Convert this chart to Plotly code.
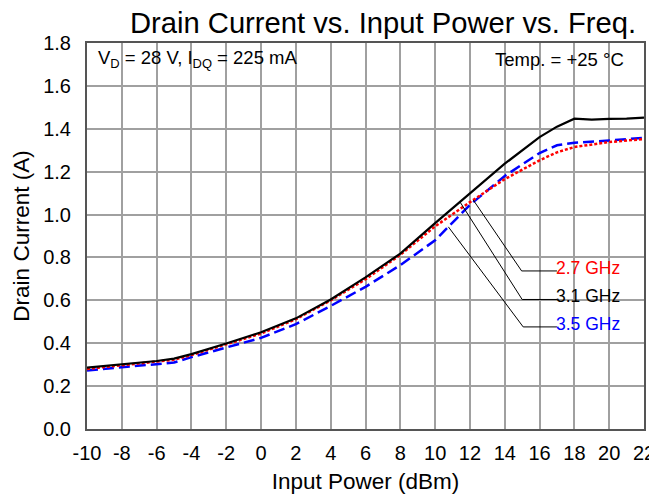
import numpy as np
import plotly.graph_objects as go

# ---- data ----
pin_27 = [-10, -8, -6, -5, -4, -2, 0, 2, 4, 6, 8, 10, 12, 14, 16, 17, 18, 20, 22]
id_27 = [0.280, 0.297, 0.313, 0.323, 0.345, 0.395, 0.445, 0.512, 0.600, 0.698, 0.812,
         0.945, 1.058, 1.165, 1.253, 1.290, 1.315, 1.338, 1.352]

pin_31 = [-10, -8, -6, -5, -4, -2, 0, 2, 4, 6, 8, 10, 12, 14, 16, 17, 18, 19, 20, 21, 22]
id_31 = [0.286, 0.301, 0.317, 0.328, 0.349, 0.399, 0.451, 0.516, 0.604, 0.707, 0.818,
         0.960, 1.098, 1.237, 1.361, 1.410, 1.447, 1.443, 1.446, 1.447, 1.452]

pin_35 = [-10, -8, -6, -5, -4, -2, 0, 2, 4, 6, 8, 10, 12, 14, 16, 17, 18, 20, 22]
id_35 = [0.273, 0.288, 0.301, 0.310, 0.335, 0.381, 0.425, 0.489, 0.574, 0.663, 0.764,
         0.880, 1.045, 1.180, 1.287, 1.323, 1.335, 1.345, 1.358]

series_names = ["2.7 GHz", "3.1 GHz", "3.5 GHz"]
x_ticks = list(range(-10, 23, 2))
y_ticks = [round(0.2 * i, 1) for i in range(10)]

# callout anchor positions (x on curve), elbow and label positions
callout_x = [12.19, 11.43, 10.76]
elbow = [(14.97, 0.737), (15.0, 0.604), (15.06, 0.476)]
label_x = 17.0

FONT = "Liberation Sans, Arial, sans-serif"

fig = go.Figure()
styles = [
    dict(color="#ff0000", width=2.5, dash="3px,2px"),
    dict(color="#000000", width=2.2, dash="solid"),
    dict(color="#0000ff", width=2.5, dash="11px,5px"),
]
data = [(pin_27, id_27), (pin_31, id_31), (pin_35, id_35)]
order = [2, 0, 1]  # draw blue, red, then black on top
for i in order:
    xs, ys = data[i]
    fig.add_trace(go.Scatter(x=xs, y=ys, mode="lines", name=series_names[i],
                             line=styles[i], showlegend=False))

# white boxes behind the top texts
shapes = [
    dict(type="rect", xref="x", yref="y", x0=-10, x1=2.8, y0=1.663, y1=1.8,
         fillcolor="white", line=dict(width=0), layer="below"),
    dict(type="rect", xref="x", yref="y", x0=13.2, x1=22, y0=1.663, y1=1.8,
         fillcolor="white", line=dict(width=0), layer="below"),
]

annotations = []
label_colors = ["#ff0000", "#000000", "#0000ff"]
for i in range(3):
    xs, ys = data[i]
    cx = callout_x[i]
    cy = float(np.interp(cx, xs, ys))
    ex, ey = elbow[i]
    fig.add_trace(go.Scatter(x=[cx, ex, label_x], y=[cy, ey, ey], mode="lines",
                             line=dict(color="black", width=1), showlegend=False,
                             hoverinfo="skip"))
    annotations.append(dict(x=label_x, y=ey, xref="x", yref="y", text=series_names[i],
                            showarrow=False, xanchor="left", yanchor="middle", yshift=3,
                            xshift=-3,
                            font=dict(family=FONT, size=17.5, color=label_colors[i])))

annotations += [
    dict(x=0.0, y=1.0, xref="paper", yref="paper", xshift=9, yshift=-16,
         text="V<sub>D</sub> = 28 V, I<sub>DQ</sub> = 225 mA", showarrow=False,
         xanchor="left", yanchor="middle", font=dict(family=FONT, size=18.5, color="black")),
    dict(x=1.0, y=1.0, xref="paper", yref="paper", xshift=-18, yshift=-16,
         text="Temp. = +25 °C", showarrow=False,
         xanchor="right", yanchor="middle", font=dict(family=FONT, size=18.5, color="black")),
]

# page is rendered with an 8px body margin, so margins are shifted accordingly
W, H = 657, 494
fig.update_layout(
    width=W, height=H,
    margin=dict(l=79, r=21, t=35, b=73, autoexpand=False),
    paper_bgcolor="white", plot_bgcolor="white",
    title=dict(text="Drain Current vs. Input Power vs. Freq.", x=375 / W, xanchor="center",
               y=1 - 15 / H, yanchor="middle",
               font=dict(family=FONT, size=29.2, color="black")),
    font=dict(family=FONT, color="black"),
    shapes=shapes,
    annotations=annotations,
    showlegend=False,
)
fig.update_xaxes(range=[-10, 22], tickvals=x_ticks, ticktext=[str(v) for v in x_ticks],
                 showgrid=True, gridcolor="#a0a0a0", gridwidth=2,
                 showline=True, linecolor="#555555", linewidth=2, mirror=True,
                 ticks="", zeroline=False, tickfont=dict(size=20), automargin=False,
                 ticklabelstandoff=5,
                 title=dict(text="Input Power (dBm)", font=dict(size=22.5), standoff=10))
fig.update_yaxes(range=[0, 1.8], tickvals=y_ticks, ticktext=[f"{v:.1f}" for v in y_ticks],
                 showgrid=True, gridcolor="#a0a0a0", gridwidth=2,
                 showline=True, linecolor="#555555", linewidth=2, mirror=True,
                 ticks="", zeroline=False, tickfont=dict(size=20), automargin=False,
                 ticklabelstandoff=10,
                 title=dict(text="Drain Current (A)", font=dict(size=22.5), standoff=7))

fig.write_html("out.html")
